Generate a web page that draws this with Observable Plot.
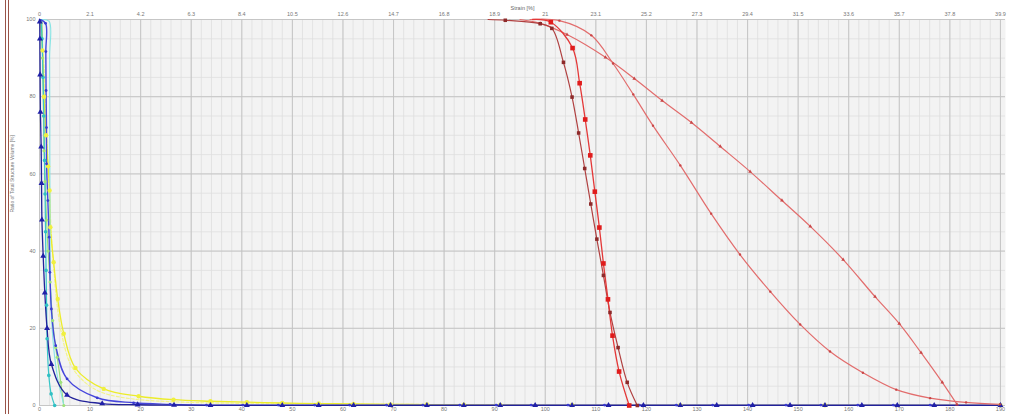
<!DOCTYPE html>
<html><head><meta charset="utf-8">
<script src="https://cdn.jsdelivr.net/npm/d3@7"></script>
<script src="https://cdn.jsdelivr.net/npm/@observablehq/plot@0.6"></script>
<style>
body{margin:0;background:#fff;}
#wrap{position:relative;width:1011px;height:414px;overflow:hidden;}
#edge{position:absolute;left:5px;top:0;width:2px;height:414px;border-left:1.5px solid #9a5448;border-right:1.5px solid #9a5448;}
#chart{position:absolute;left:0;top:0;}
</style></head><body>
<div id="wrap"><div id="chart"></div><div id="edge"></div></div>
<script>
// ---- tick labels ----
const bottomTicks = [0,10,20,30,40,50,60,70,80,90,100,110,120,130,140,150,160,170,180,190];
const topTickLabels = ["0","2.1","4.2","6.3","8.4","10.5","12.6","14.7","16.8","18.9","21","23.1","25.2","27.3","29.4","31.5","33.6","35.7","37.8","39.9"];
const yTicks = [0,20,40,60,80,100];
const xTitle = "Strain [%]";
const yTitle = "Ratio of Total Structure Volume [%]";

// ---- series values [x, y] ----
const baseX = [33.8,41.0,48.0,55.2,62.1,69.4,76.6,83.9,91.1,98.0,105.3,112.5,119.4,126.7,133.9,141.0,148.4,155.3,162.6,169.6,176.9];
const N1 = [[0,100],[0.05,99.4],[0.08,95],[0.12,85.7],[0.18,76],[0.33,67],[0.4,57.6],[0.48,48.1],[0.73,38.7],[1.05,29.2],[1.5,20],[2.35,10.7],[5.45,2.7],[12.4,0.5],[19.4,0.2],[26.6,0.1]];
const N1tail = [0.05,0.05,0.05,0.05,0.05,0.05,0.05,0.05,0.05,0.05,0.05,0.05,0.05,0.05,0.05,0.05,0.05,0.05,0.05,0.05,0.05];
const B1 = [[0,100],[1.2,99],[1.25,91.7],[1.3,81.6],[1.38,72],[1.4,62.6],[1.65,53.1],[1.9,43.6],[2.05,34.5],[2.35,25],[3.2,15.5],[5.45,6.9],[11.4,2.0],[18.6,0.7],[25.8,0.3]];
const B1tailX = [33.0,40.2,47.2,54.4,61.3,68.6,75.8,83.1,90.3,97.2,104.5,111.7,118.6,125.9,133.1,140.2,147.6,154.5,161.8,168.8,176.1];
const C1 = [[0.3,100],[0.5,95],[0.7,85],[0.85,75],[1.0,63.5],[1.1,54.8],[1.2,45],[1.3,35],[1.4,26],[1.5,17.3],[1.84,7.8],[2.3,3],[3.0,0]];
const C2 = [[0.3,100],[1.9,99.5],[2.0,90],[2.05,60],[2.1,40],[2.3,25],[2.8,15],[3.6,7],[4.3,3],[4.8,0]];
const G1 = [[0.5,100],[0.6,90],[0.8,75],[0.9,66],[1.1,58],[1.4,48],[1.7,40],[2.1,32],[2.6,22],[3.2,15],[3.5,12.5],[4.2,6],[4.8,0]];
const Y1 = [[0.2,100],[0.6,92],[0.9,80],[1.3,70],[1.7,62],[2.0,55.7],[2.15,46.2],[2.8,37.1],[3.6,27.6],[4.8,18.6],[7.1,9.7],[12.7,4.3],[19.6,2.4],[26.5,1.5],[33.8,1.1],[41,0.85],[48,0.65],[55.2,0.5],[62.1,0.4],[69.4,0.3],[76.6,0.25],[83.9,0.2],[91.1,0.15],[105.3,0.12],[126.7,0.1],[155.3,0.08],[190,0.06]];
const Y2 = [[0.3,100],[1.0,85],[1.6,65],[2.2,48],[2.8,36],[3.4,27],[4.3,19],[6.2,10.5],[9,6],[12.5,3.3],[19,1.6],[26,1.0],[33,0.7],[48,0.45],[70,0.3],[90,0.2]];
const D = [[88.7,100],[92.1,99.8],[99.0,98.9],[101.3,97.7],[103.6,88.9],[105.3,79.9],[106.6,70.6],[107.8,61.4],[109.0,52.2],[110.2,43.1],[111.5,33.7],[112.8,24.1],[114.4,15.0],[116.2,6.0],[118.2,0]];
const R = [[97.5,100],[101.1,99.3],[105.4,92.6],[106.8,83.5],[107.9,74.1],[108.9,64.8],[109.8,55.4],[110.7,46.1],[111.5,36.8],[112.4,27.5],[113.3,18.1],[114.6,8.8],[116.6,0]];
const L1 = [[95,100],[99.0,99.0],[104.3,96.1],[111.9,90.2],[117.6,84.7],[123.1,79.0],[128.9,73.3],[134.6,67.1],[140.5,60.6],[146.8,53.1],[152.4,46.4],[158.9,37.8],[165.2,28.2],[170.0,21.2],[174.3,13.7],[178.5,6.0],[181.4,0.3]];
const L2 = [[97,100],[102.8,99.7],[109.1,95.9],[113.4,88.6],[117.4,80.6],[121.3,72.5],[126.7,62.2],[132.8,49.7],[138.5,39.1],[144.5,29.5],[150.4,21.0],[156.3,14.0],[162.8,8.5],[169.4,4.1],[176.1,1.9],[183.2,0.8],[189.9,0.3]];

// ---- build series tables ----
const N1full = N1.concat(baseX.map((x,i)=>[x,N1tail[i]]), [[190,0.05]]);
const B1full = B1.concat(B1tailX.map(x=>[x,0.1]), [[190,0.08]]);
const styles = [
  {pts:Y2, stroke:"#f3f38a", w:1.2, dash:"3,2", sym:null},
  {pts:Y1, stroke:"#ecec2a", w:1.3, sym:"circle", fill:"#f0f040", r:2.2},
  {pts:G1, stroke:"#98dc78", w:1.1, sym:"circle", fill:"#9ee27a", r:1.6},
  {pts:C2, stroke:"#86e4e4", w:1.1, sym:null},
  {pts:C1, stroke:"#38c6c8", w:1.2, sym:"circle", fill:"#30c0c4", r:1.8},
  {pts:B1full, stroke:"#4646dc", w:1.4, sym:"circle", fill:"#3a3ad0", r:1.4},
  {pts:N1full, stroke:"#22229a", w:1.3, sym:"triangle", fill:"#2020a8", r:2.2},
  {pts:L2, stroke:"#e26c6c", w:1.2, sym:"circle", fill:"#c84646", r:1.2},
  {pts:L1, stroke:"#e26c6c", w:1.2, sym:"triangle", fill:"#c84646", r:1.4},
  {pts:D, stroke:"#b04040", w:1.2, sym:"square", fill:"#8e2a2a", r:2.0},
  {pts:R, stroke:"#e43838", w:1.3, sym:"square", fill:"#e01c1c", r:2.6}
];
const xMinor = d3.range(0,191,2);
const yMinor = d3.range(0,101,5);

const marks = [
  Plot.frame({fill:"#f3f3f3", stroke:null}),
  Plot.ruleX(xMinor,{stroke:"#dedede", strokeWidth:0.8}),
  Plot.ruleY(yMinor,{stroke:"#dedede", strokeWidth:0.8}),
  Plot.ruleX(bottomTicks,{stroke:"#c2c2c2", strokeWidth:0.9}),
  Plot.ruleY(yTicks,{stroke:"#c2c2c2", strokeWidth:0.9})
];
for (const s of styles) {
  marks.push(Plot.line(s.pts, {x:d=>d[0], y:d=>d[1], stroke:s.stroke, strokeWidth:s.w, curve:"catmull-rom", strokeDasharray:s.dash||null}));
}
for (const s of styles) {
  if (!s.sym) continue;
  marks.push(Plot.dot(s.pts.slice(1), {x:d=>d[0], y:d=>d[1], symbol:s.sym, r:s.r, fill:s.fill, stroke:null}));
}
marks.push(
  Plot.axisX(bottomTicks,{anchor:"bottom", tickSize:0, tickPadding:2, fontSize:5.5, fill:"#777", label:null}),
  Plot.axisX(bottomTicks,{anchor:"top", tickSize:0, tickPadding:4, fontSize:5.5, fill:"#777", label:null,
    tickFormat:d=>topTickLabels[bottomTicks.indexOf(d)]}),
  Plot.axisY(yTicks,{anchor:"left", tickSize:0, tickPadding:4, fontSize:5.5, fill:"#777", label:null}),
  Plot.text([xTitle],{frameAnchor:"top", dy:-13, text:d=>d, fontSize:5.5, fill:"#666"}),
  Plot.text([yTitle],{frameAnchor:"left", dx:-27, rotate:-90, text:d=>d, fontSize:5, fill:"#777"})
);

const chart = Plot.plot({
  width:1011, height:414,
  marginLeft:39, marginRight:6, marginTop:19, marginBottom:9,
  x:{domain:[0,191], axis:null},
  y:{domain:[0,100], axis:null},
  style:{fontFamily:"Liberation Sans, Arial, sans-serif", background:"transparent"},
  marks
});
document.getElementById("chart").appendChild(chart);
</script>
</body></html>
